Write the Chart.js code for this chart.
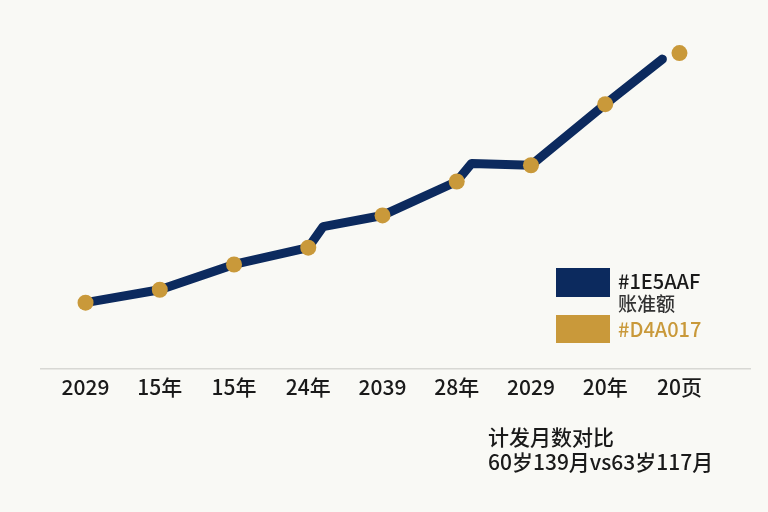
<!DOCTYPE html>
<html>
<head>
<meta charset="utf-8">
<script src="https://cdn.jsdelivr.net/npm/chart.js@4/dist/chart.umd.min.js"></script>
<style>
html,body{margin:0;padding:0;background:#F9F9F5;}
canvas{display:block;}
</style>
</head>
<body>
<canvas id="c" width="768" height="512"></canvas>
<script>
// categories (x tick labels)
const categories = ['2029','15年','15年','24年','2039','28年','2029','20年','20页'];
// gold point values at each category
const pointValues = [22, 26.3, 34.7, 40.3, 51, 62.3, 67.7, 88, 105];
// navy line vertices (x in category index units)
const lineX = [0, 1, 2, 3, 3.2, 4, 5, 5.2, 6, 7, 7.77];
const lineY = [22, 26.3, 34.7, 40.3, 47.3, 51, 62.3, 68.3, 67.7, 88, 103];
// legend and annotation texts
const legendTexts = ['#1E5AAF', '账准额', '#D4A017'];
const noteLines = ['计发月数对比', '60岁139月vs63岁117月'];

const NAVY = '#0C2A5E';
const GOLD = '#C9993A';

const overlay = {
  id: 'overlay',
  afterDraw(chart) {
    const ctx = chart.ctx;
    ctx.save();
    // legend boxes
    ctx.fillStyle = NAVY;
    ctx.fillRect(556, 268, 54, 29);
    ctx.fillStyle = GOLD;
    ctx.fillRect(556, 315, 54, 28);
    ctx.textBaseline = 'middle';
    ctx.textAlign = 'left';
    ctx.font = '500 20px "Noto Sans CJK SC", "Noto Sans", sans-serif';
    ctx.fillStyle = '#1a1a1a';
    ctx.fillText(legendTexts[0], 618, 281);
    ctx.font = '500 19px "Noto Sans CJK SC", sans-serif';
    ctx.fillStyle = '#333';
    ctx.fillText(legendTexts[1], 618, 304);
    ctx.font = '500 20px "Noto Sans CJK SC", "Noto Sans", sans-serif';
    ctx.fillStyle = GOLD;
    ctx.fillText(legendTexts[2], 618, 329);
    // annotation
    ctx.font = '500 21px "Noto Sans CJK SC", sans-serif';
    ctx.fillStyle = '#1a1a1a';
    ctx.fillText(noteLines[0], 488, 437);
    ctx.fillText(noteLines[1], 488, 462);
    ctx.restore();
  }
};

new Chart(document.getElementById('c'), {
  type: 'scatter',
  data: {
    datasets: [
      {
        data: pointValues.map((v, i) => ({x: i, y: v})),
        showLine: false,
        pointRadius: 8,
        pointHoverRadius: 8,
        pointBackgroundColor: GOLD,
        pointBorderWidth: 0,
        order: 0
      },
      {
        data: lineX.map((x, i) => ({x: x, y: lineY[i]})),
        showLine: true,
        borderColor: NAVY,
        borderWidth: 9,
        borderCapStyle: 'round',
        borderJoinStyle: 'round',
        pointRadius: 0,
        tension: 0,
        order: 1
      }
    ]
  },
  options: {
    responsive: false,
    animation: false,
    events: [],
    layout: { padding: { left: 41, right: 18, top: 8, bottom: 106 } },
    plugins: { legend: { display: false }, tooltip: { enabled: false } },
    scales: {
      x: {
        type: 'linear',
        min: -0.6,
        max: 8.95,
        afterBuildTicks(scale) {
          scale.ticks = categories.map((c, i) => ({ value: i }));
        },
        ticks: {
          autoSkip: false,
          maxRotation: 0,
          padding: 6,
          color: '#1a1a1a',
          font: { size: 21, weight: '500', family: '"Noto Sans CJK SC", sans-serif' },
          callback: (v) => categories[v]
        },
        grid: { display: false, drawTicks: false },
        border: { display: true, color: '#D8D8D4', width: 1.5 }
      },
      y: {
        display: false,
        min: 0,
        max: 120
      }
    }
  },
  plugins: [overlay]
});
</script>
</body>
</html>
